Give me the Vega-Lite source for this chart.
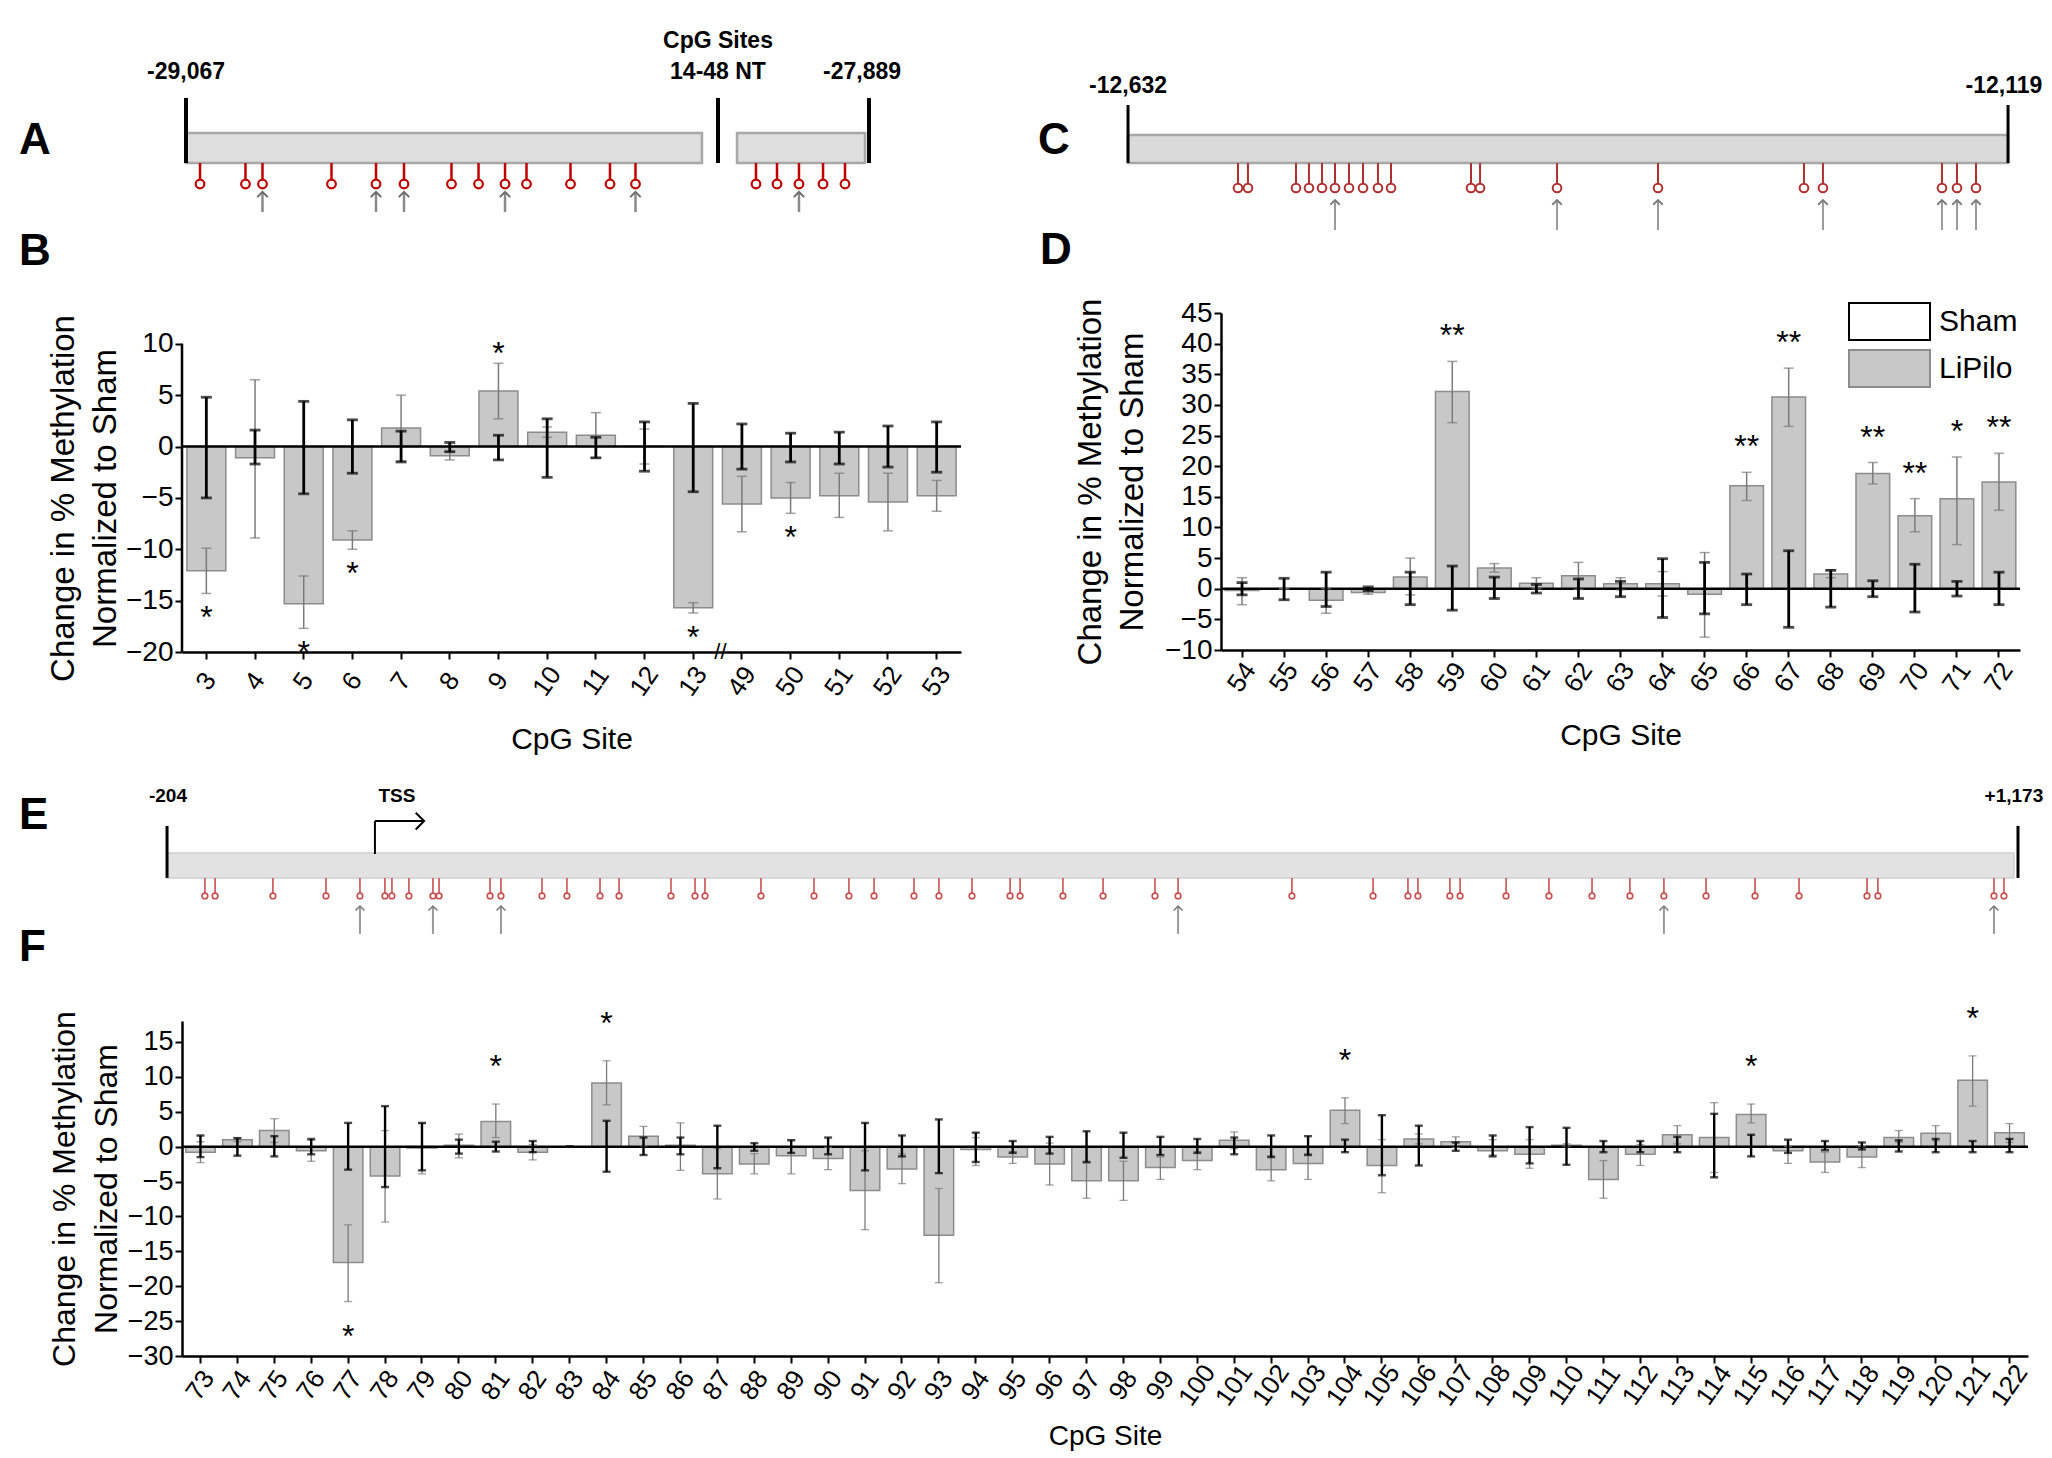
{
  "$schema": "https://vega.github.io/schema/vega-lite/v6.json",
  "background": "white",
  "padding": {"left": 19, "top": 20, "right": 5, "bottom": 0},
  "bounds": "full",
  "spacing": -10,
  "datasets": {
    "A": [
      {"site": 1, "pos": 2.51, "arrow": 0}, {"site": 2, "pos": 8.84, "arrow": 0}, {"site": 3, "pos": 11.21, "arrow": 1},
      {"site": 4, "pos": 20.82, "arrow": 0}, {"site": 5, "pos": 27.02, "arrow": 1}, {"site": 6, "pos": 30.92, "arrow": 1},
      {"site": 7, "pos": 37.53, "arrow": 0}, {"site": 8, "pos": 41.30, "arrow": 0}, {"site": 9, "pos": 44.99, "arrow": 1},
      {"site": 10, "pos": 47.98, "arrow": 0}, {"site": 11, "pos": 54.11, "arrow": 0}, {"site": 12, "pos": 59.61, "arrow": 0},
      {"site": 13, "pos": 63.16, "arrow": 1}, {"site": 49, "pos": 79.94, "arrow": 0}, {"site": 50, "pos": 82.87, "arrow": 0},
      {"site": 51, "pos": 85.93, "arrow": 1}, {"site": 52, "pos": 89.28, "arrow": 0}, {"site": 53, "pos": 92.34, "arrow": 0}
    ],
    "C": [
      {"site": 54, "pos": 14.68, "arrow": 0}, {"site": 55, "pos": 15.74, "arrow": 0}, {"site": 56, "pos": 20.85, "arrow": 0},
      {"site": 57, "pos": 22.23, "arrow": 0}, {"site": 58, "pos": 23.62, "arrow": 0}, {"site": 59, "pos": 25.00, "arrow": 1},
      {"site": 60, "pos": 26.49, "arrow": 0}, {"site": 61, "pos": 27.98, "arrow": 0}, {"site": 62, "pos": 29.57, "arrow": 0},
      {"site": 63, "pos": 30.96, "arrow": 0}, {"site": 64, "pos": 39.47, "arrow": 0}, {"site": 65, "pos": 40.43, "arrow": 0},
      {"site": 66, "pos": 48.62, "arrow": 1}, {"site": 67, "pos": 59.36, "arrow": 1}, {"site": 68, "pos": 74.89, "arrow": 0},
      {"site": 69, "pos": 76.91, "arrow": 1}, {"site": 70, "pos": 89.57, "arrow": 1}, {"site": 71, "pos": 91.17, "arrow": 1},
      {"site": 72, "pos": 93.19, "arrow": 1}
    ],
    "E": [
      {"site": 73, "pos": 1.24, "arrow": 0}, {"site": 74, "pos": 1.79, "arrow": 0}, {"site": 75, "pos": 4.92, "arrow": 0},
      {"site": 76, "pos": 7.79, "arrow": 0}, {"site": 77, "pos": 9.63, "arrow": 1}, {"site": 78, "pos": 10.98, "arrow": 0},
      {"site": 79, "pos": 11.36, "arrow": 0}, {"site": 80, "pos": 12.28, "arrow": 0}, {"site": 81, "pos": 13.58, "arrow": 1},
      {"site": 82, "pos": 13.91, "arrow": 0}, {"site": 83, "pos": 16.67, "arrow": 0}, {"site": 84, "pos": 17.26, "arrow": 1},
      {"site": 85, "pos": 19.48, "arrow": 0}, {"site": 86, "pos": 20.83, "arrow": 0}, {"site": 87, "pos": 22.62, "arrow": 0},
      {"site": 88, "pos": 23.65, "arrow": 0}, {"site": 89, "pos": 26.46, "arrow": 0}, {"site": 90, "pos": 27.76, "arrow": 0},
      {"site": 91, "pos": 28.30, "arrow": 0}, {"site": 92, "pos": 31.33, "arrow": 0}, {"site": 93, "pos": 34.20, "arrow": 0},
      {"site": 94, "pos": 36.09, "arrow": 0}, {"site": 95, "pos": 37.45, "arrow": 0}, {"site": 96, "pos": 39.61, "arrow": 0},
      {"site": 97, "pos": 40.96, "arrow": 0}, {"site": 98, "pos": 42.75, "arrow": 0}, {"site": 99, "pos": 44.81, "arrow": 0},
      {"site": 100, "pos": 45.35, "arrow": 0}, {"site": 101, "pos": 47.67, "arrow": 0}, {"site": 102, "pos": 49.84, "arrow": 0},
      {"site": 103, "pos": 52.65, "arrow": 0}, {"site": 104, "pos": 53.90, "arrow": 1}, {"site": 105, "pos": 60.06, "arrow": 0},
      {"site": 106, "pos": 64.45, "arrow": 0}, {"site": 107, "pos": 66.34, "arrow": 0}, {"site": 108, "pos": 66.88, "arrow": 0},
      {"site": 109, "pos": 68.61, "arrow": 0}, {"site": 110, "pos": 69.16, "arrow": 0}, {"site": 111, "pos": 71.65, "arrow": 0},
      {"site": 112, "pos": 73.97, "arrow": 0}, {"site": 113, "pos": 76.30, "arrow": 0}, {"site": 114, "pos": 78.35, "arrow": 0},
      {"site": 115, "pos": 80.19, "arrow": 1}, {"site": 116, "pos": 82.47, "arrow": 0}, {"site": 117, "pos": 85.12, "arrow": 0},
      {"site": 118, "pos": 87.50, "arrow": 0}, {"site": 119, "pos": 91.18, "arrow": 0}, {"site": 120, "pos": 91.77, "arrow": 0},
      {"site": 121, "pos": 98.05, "arrow": 1}, {"site": 122, "pos": 98.59, "arrow": 0}
    ],
    "B": [
      {"site": 3, "m": -12.1, "lo": -14.3, "hi": -9.9, "slo": -5.0, "shi": 4.8, "star": "*"},
      {"site": 4, "m": -1.1, "lo": -8.9, "hi": 6.5, "slo": -1.7, "shi": 1.6, "star": ""},
      {"site": 5, "m": -15.3, "lo": -17.7, "hi": -12.6, "slo": -4.6, "shi": 4.4, "star": "*"},
      {"site": 6, "m": -9.1, "lo": -10.0, "hi": -8.2, "slo": -2.6, "shi": 2.6, "star": "*"},
      {"site": 7, "m": 1.8, "lo": -1.4, "hi": 5.0, "slo": -1.5, "shi": 1.5, "star": ""},
      {"site": 8, "m": -0.9, "lo": -1.3, "hi": -0.5, "slo": -0.5, "shi": 0.4, "star": ""},
      {"site": 9, "m": 5.4, "lo": 2.7, "hi": 8.1, "slo": -1.3, "shi": 1.1, "star": "*"},
      {"site": 10, "m": 1.4, "lo": 0.9, "hi": 1.9, "slo": -3.0, "shi": 2.7, "star": ""},
      {"site": 11, "m": 1.1, "lo": -1.1, "hi": 3.3, "slo": -1.1, "shi": 0.9, "star": ""},
      {"site": 12, "m": 0.0, "lo": -1.7, "hi": 1.7, "slo": -2.4, "shi": 2.4, "star": ""},
      {"site": 13, "m": -15.7, "lo": -16.2, "hi": -15.2, "slo": -4.4, "shi": 4.2, "star": "*"},
      {"site": 49, "m": -5.6, "lo": -8.3, "hi": -2.9, "slo": -2.2, "shi": 2.2, "star": ""},
      {"site": 50, "m": -5.0, "lo": -6.5, "hi": -3.5, "slo": -1.5, "shi": 1.3, "star": "*"},
      {"site": 51, "m": -4.8, "lo": -6.9, "hi": -2.6, "slo": -1.7, "shi": 1.4, "star": ""},
      {"site": 52, "m": -5.4, "lo": -8.2, "hi": -2.6, "slo": -2.0, "shi": 2.0, "star": ""},
      {"site": 53, "m": -4.8, "lo": -6.3, "hi": -3.3, "slo": -2.5, "shi": 2.4, "star": ""}
    ],
    "D": [
      {"site": 54, "m": -0.3, "lo": -2.6, "hi": 1.8, "slo": -1.0, "shi": 1.0, "star": "", "grp": "LiPilo"},
      {"site": 55, "m": 0.0, "lo": 0.0, "hi": 0.0, "slo": -1.8, "shi": 1.7, "star": "", "grp": "LiPilo"},
      {"site": 56, "m": -1.9, "lo": -4.0, "hi": 0.0, "slo": -2.9, "shi": 2.7, "star": "", "grp": "LiPilo"},
      {"site": 57, "m": -0.6, "lo": -0.9, "hi": -0.3, "slo": -0.3, "shi": 0.3, "star": "", "grp": "LiPilo"},
      {"site": 58, "m": 1.9, "lo": -1.0, "hi": 5.0, "slo": -2.6, "shi": 2.7, "star": "", "grp": "LiPilo"},
      {"site": 59, "m": 32.2, "lo": 27.1, "hi": 37.1, "slo": -3.5, "shi": 3.7, "star": "**", "grp": "LiPilo"},
      {"site": 60, "m": 3.4, "lo": 2.7, "hi": 4.1, "slo": -1.6, "shi": 1.9, "star": "", "grp": "LiPilo"},
      {"site": 61, "m": 0.9, "lo": 0.0, "hi": 1.8, "slo": -0.7, "shi": 0.7, "star": "", "grp": "LiPilo"},
      {"site": 62, "m": 2.1, "lo": -0.1, "hi": 4.3, "slo": -1.6, "shi": 1.6, "star": "", "grp": "LiPilo"},
      {"site": 63, "m": 0.8, "lo": -0.2, "hi": 1.8, "slo": -1.3, "shi": 1.2, "star": "", "grp": "LiPilo"},
      {"site": 64, "m": 0.8, "lo": -1.2, "hi": 2.8, "slo": -4.7, "shi": 4.9, "star": "", "grp": "LiPilo"},
      {"site": 65, "m": -0.9, "lo": -7.9, "hi": 5.9, "slo": -4.1, "shi": 4.3, "star": "", "grp": "LiPilo"},
      {"site": 66, "m": 16.8, "lo": 14.4, "hi": 19.0, "slo": -2.6, "shi": 2.4, "star": "**", "grp": "LiPilo"},
      {"site": 67, "m": 31.3, "lo": 26.5, "hi": 36.0, "slo": -6.3, "shi": 6.2, "star": "**", "grp": "LiPilo"},
      {"site": 68, "m": 2.4, "lo": 1.8, "hi": 3.1, "slo": -3.0, "shi": 3.0, "star": "", "grp": "LiPilo"},
      {"site": 69, "m": 18.8, "lo": 17.1, "hi": 20.6, "slo": -1.3, "shi": 1.3, "star": "**", "grp": "LiPilo"},
      {"site": 70, "m": 11.9, "lo": 9.3, "hi": 14.7, "slo": -3.8, "shi": 4.0, "star": "**", "grp": "LiPilo"},
      {"site": 71, "m": 14.7, "lo": 7.2, "hi": 21.5, "slo": -1.2, "shi": 1.2, "star": "*", "grp": "LiPilo"},
      {"site": 72, "m": 17.4, "lo": 12.8, "hi": 22.1, "slo": -2.6, "shi": 2.7, "star": "**", "grp": "LiPilo"}
    ],
    "F": [
      {"site": 73, "m": -0.8, "lo": -2.3, "hi": 0.7, "slo": -1.5, "shi": 1.6, "star": ""},
      {"site": 74, "m": 1.0, "lo": 0.7, "hi": 1.3, "slo": -1.3, "shi": 1.2, "star": ""},
      {"site": 75, "m": 2.3, "lo": 0.6, "hi": 4.0, "slo": -1.4, "shi": 1.5, "star": ""},
      {"site": 76, "m": -0.6, "lo": -2.1, "hi": 0.9, "slo": -1.1, "shi": 1.1, "star": ""},
      {"site": 77, "m": -16.6, "lo": -22.2, "hi": -11.2, "slo": -3.3, "shi": 3.4, "star": "*"},
      {"site": 78, "m": -4.2, "lo": -10.8, "hi": 2.3, "slo": -5.8, "shi": 5.8, "star": ""},
      {"site": 79, "m": -0.2, "lo": -3.9, "hi": 3.3, "slo": -3.4, "shi": 3.4, "star": ""},
      {"site": 80, "m": 0.2, "lo": -1.6, "hi": 1.8, "slo": -1.0, "shi": 1.0, "star": ""},
      {"site": 81, "m": 3.6, "lo": 1.3, "hi": 6.1, "slo": -0.7, "shi": 0.7, "star": "*"},
      {"site": 82, "m": -0.8, "lo": -1.9, "hi": 0.3, "slo": -0.8, "shi": 0.8, "star": ""},
      {"site": 83, "m": 0.0, "lo": 0.0, "hi": 0.0, "slo": 0.0, "shi": 0.0, "star": ""},
      {"site": 84, "m": 9.1, "lo": 6.0, "hi": 12.3, "slo": -3.6, "shi": 3.7, "star": "*"},
      {"site": 85, "m": 1.5, "lo": 0.1, "hi": 2.9, "slo": -1.2, "shi": 1.3, "star": ""},
      {"site": 86, "m": 0.2, "lo": -3.4, "hi": 3.4, "slo": -1.1, "shi": 1.3, "star": ""},
      {"site": 87, "m": -3.9, "lo": -7.5, "hi": -0.3, "slo": -3.1, "shi": 3.0, "star": ""},
      {"site": 88, "m": -2.5, "lo": -3.9, "hi": -1.0, "slo": -0.6, "shi": 0.5, "star": ""},
      {"site": 89, "m": -1.3, "lo": -3.9, "hi": 1.0, "slo": -0.9, "shi": 0.9, "star": ""},
      {"site": 90, "m": -1.7, "lo": -3.3, "hi": -0.1, "slo": -1.1, "shi": 1.3, "star": ""},
      {"site": 91, "m": -6.3, "lo": -11.9, "hi": -0.6, "slo": -3.4, "shi": 3.4, "star": ""},
      {"site": 92, "m": -3.2, "lo": -5.3, "hi": -1.0, "slo": -1.4, "shi": 1.6, "star": ""},
      {"site": 93, "m": -12.7, "lo": -19.5, "hi": -6.0, "slo": -3.8, "shi": 3.9, "star": ""},
      {"site": 94, "m": -0.4, "lo": -2.7, "hi": 1.3, "slo": -2.2, "shi": 2.0, "star": ""},
      {"site": 95, "m": -1.5, "lo": -2.4, "hi": -0.7, "slo": -0.9, "shi": 0.8, "star": ""},
      {"site": 96, "m": -2.5, "lo": -5.5, "hi": 0.5, "slo": -1.0, "shi": 1.4, "star": ""},
      {"site": 97, "m": -4.9, "lo": -7.4, "hi": -2.4, "slo": -2.2, "shi": 2.2, "star": ""},
      {"site": 98, "m": -4.9, "lo": -7.7, "hi": -2.1, "slo": -1.6, "shi": 2.0, "star": ""},
      {"site": 99, "m": -3.0, "lo": -4.7, "hi": -1.5, "slo": -1.2, "shi": 1.4, "star": ""},
      {"site": 100, "m": -2.0, "lo": -3.3, "hi": -0.7, "slo": -0.9, "shi": 1.1, "star": ""},
      {"site": 101, "m": 0.9, "lo": -0.3, "hi": 2.1, "slo": -1.1, "shi": 1.3, "star": ""},
      {"site": 102, "m": -3.3, "lo": -4.9, "hi": -1.3, "slo": -1.5, "shi": 1.6, "star": ""},
      {"site": 103, "m": -2.4, "lo": -4.7, "hi": -1.0, "slo": -1.2, "shi": 1.5, "star": ""},
      {"site": 104, "m": 5.2, "lo": 3.3, "hi": 7.0, "slo": -0.8, "shi": 1.0, "star": "*"},
      {"site": 105, "m": -2.7, "lo": -6.6, "hi": 1.0, "slo": -4.1, "shi": 4.5, "star": ""},
      {"site": 106, "m": 1.1, "lo": 0.4, "hi": 1.8, "slo": -2.7, "shi": 3.0, "star": ""},
      {"site": 107, "m": 0.7, "lo": -0.1, "hi": 1.4, "slo": -0.6, "shi": 0.6, "star": ""},
      {"site": 108, "m": -0.6, "lo": -1.2, "hi": 1.0, "slo": -1.4, "shi": 1.6, "star": ""},
      {"site": 109, "m": -1.1, "lo": -3.1, "hi": 1.0, "slo": -2.4, "shi": 2.8, "star": ""},
      {"site": 110, "m": 0.2, "lo": 0.0, "hi": 0.4, "slo": -2.6, "shi": 2.7, "star": ""},
      {"site": 111, "m": -4.7, "lo": -7.4, "hi": -2.0, "slo": -0.8, "shi": 0.8, "star": ""},
      {"site": 112, "m": -1.1, "lo": -2.7, "hi": 0.3, "slo": -0.8, "shi": 0.8, "star": ""},
      {"site": 113, "m": 1.7, "lo": 0.4, "hi": 3.0, "slo": -0.8, "shi": 1.4, "star": ""},
      {"site": 114, "m": 1.3, "lo": -3.7, "hi": 6.3, "slo": -4.4, "shi": 4.7, "star": ""},
      {"site": 115, "m": 4.6, "lo": 3.4, "hi": 6.1, "slo": -1.4, "shi": 1.7, "star": "*"},
      {"site": 116, "m": -0.6, "lo": -2.4, "hi": 0.0, "slo": -0.9, "shi": 1.0, "star": ""},
      {"site": 117, "m": -2.2, "lo": -3.7, "hi": -0.8, "slo": -0.5, "shi": 0.8, "star": ""},
      {"site": 118, "m": -1.5, "lo": -3.0, "hi": 0.0, "slo": -0.4, "shi": 0.6, "star": ""},
      {"site": 119, "m": 1.3, "lo": 0.6, "hi": 2.3, "slo": -0.7, "shi": 0.9, "star": ""},
      {"site": 120, "m": 1.9, "lo": 0.8, "hi": 3.0, "slo": -0.8, "shi": 1.1, "star": ""},
      {"site": 121, "m": 9.5, "lo": 5.8, "hi": 13.0, "slo": -0.8, "shi": 0.8, "star": "*"},
      {"site": 122, "m": 2.0, "lo": 0.6, "hi": 3.3, "slo": -0.8, "shi": 1.1, "star": ""}
    ]
  },
  "vconcat": [
    {
      "hconcat": [
        {
          "width": 718, "height": 219,
          "layer": [
            {"data": {"values": [{"start": 0.56, "end": 72.42}, {"start": 77.30, "end": 95.13}]},
             "mark": {"type": "rect", "fill": "#dedede", "stroke": "#a8a8a8", "strokeWidth": 2.5},
             "encoding": {
               "x": {"field": "start", "type": "quantitative", "scale": {"domain": [0, 100], "nice": false, "zero": false}, "axis": null},
               "x2": {"field": "end"},
               "y": {"datum": 34.7, "type": "quantitative", "scale": {"domain": [0, 100], "nice": false, "zero": false}, "axis": null},
               "y2": {"datum": 48.4}}},
            {"data": {"values": [{"p": 0.56}, {"p": 74.65}, {"p": 95.68}]},
             "mark": {"type": "rule", "color": "#000000", "strokeWidth": 4},
             "encoding": {"x": {"field": "p", "type": "quantitative"}, "y": {"datum": 34.7}, "y2": {"datum": 64.4}}},
            {"data": {"name": "A"},
             "mark": {"type": "rule", "color": "#c00000", "strokeWidth": 2.5},
             "encoding": {"x": {"field": "pos", "type": "quantitative"}, "y": {"datum": 34.7}, "y2": {"datum": 26.6}}},
            {"data": {"name": "A"},
             "mark": {"type": "point", "shape": "circle", "size": 75, "fill": "#ffffff", "stroke": "#c00000", "strokeWidth": 2.2, "opacity": 1, "filled": true},
             "encoding": {"x": {"field": "pos", "type": "quantitative"}, "y": {"datum": 25.1}}},
            {"data": {"name": "A"}, "transform": [{"filter": "datum.arrow == 1"}],
             "mark": {"type": "rule", "color": "#8a8a8a", "strokeWidth": 2.5},
             "encoding": {"x": {"field": "pos", "type": "quantitative"}, "y": {"datum": 12.3}, "y2": {"datum": 21.2}}},
            {"data": {"name": "A"}, "transform": [{"filter": "datum.arrow == 1"}],
             "mark": {"type": "point", "shape": "M-1,1L0,0L1,1", "size": 110, "filled": false, "stroke": "#6a6a6a", "strokeWidth": 2, "opacity": 1},
             "encoding": {"x": {"field": "pos", "type": "quantitative"}, "y": {"datum": 21.5}}},
            {"data": {"values": [{"p": 0.56, "t": "-29,067"}, {"p": 74.65, "t": "14-48 NT"}, {"p": 94.71, "t": "-27,889"}]},
             "mark": {"type": "text", "fontSize": 23, "fontWeight": "bold", "align": "center", "baseline": "middle", "color": "#000000"},
             "encoding": {"x": {"field": "p", "type": "quantitative"}, "y": {"datum": 76.3}, "text": {"field": "t"}}},
            {"data": {"values": [{"p": 74.65, "t": "CpG Sites"}]},
             "mark": {"type": "text", "fontSize": 23, "fontWeight": "bold", "align": "center", "baseline": "middle", "color": "#000000"},
             "encoding": {"x": {"field": "p", "type": "quantitative"}, "y": {"datum": 90.4}, "text": {"field": "t"}}},
            {"data": {"values": [{"t": "A"}]},
             "mark": {"type": "text", "fontSize": 44, "fontWeight": "bold", "align": "left", "baseline": "middle", "color": "#000000"},
             "encoding": {"x": {"datum": -22.7}, "y": {"datum": 44.7}, "text": {"field": "t"}}}
          ]
        },
        {
          "width": 940, "height": 219,
          "layer": [
            {"data": {"values": [{"start": 2.98, "end": 96.6}]},
             "mark": {"type": "rect", "fill": "#dadada", "stroke": "#a8a8a8", "strokeWidth": 2.5},
             "encoding": {
               "x": {"field": "start", "type": "quantitative", "scale": {"domain": [0, 100], "nice": false, "zero": false}, "axis": null},
               "x2": {"field": "end"},
               "y": {"datum": 34.7, "type": "quantitative", "scale": {"domain": [0, 100], "nice": false, "zero": false}, "axis": null},
               "y2": {"datum": 47.5}}},
            {"data": {"values": [{"p": 2.98}, {"p": 96.6}]},
             "mark": {"type": "rule", "color": "#000000", "strokeWidth": 3},
             "encoding": {"x": {"field": "p", "type": "quantitative"}, "y": {"datum": 34.7}, "y2": {"datum": 61.2}}},
            {"data": {"name": "C"},
             "mark": {"type": "rule", "color": "#b03030", "strokeWidth": 2},
             "encoding": {"x": {"field": "pos", "type": "quantitative"}, "y": {"datum": 34.7}, "y2": {"datum": 24.9}}},
            {"data": {"name": "C"},
             "mark": {"type": "point", "shape": "circle", "size": 75, "fill": "#ffffff", "stroke": "#b03030", "strokeWidth": 2, "opacity": 1, "filled": true},
             "encoding": {"x": {"field": "pos", "type": "quantitative"}, "y": {"datum": 23.3}}},
            {"data": {"name": "C"}, "transform": [{"filter": "datum.arrow == 1"}],
             "mark": {"type": "rule", "color": "#9a9a9a", "strokeWidth": 2},
             "encoding": {"x": {"field": "pos", "type": "quantitative"}, "y": {"datum": 4.1}, "y2": {"datum": 17.5}}},
            {"data": {"name": "C"}, "transform": [{"filter": "datum.arrow == 1"}],
             "mark": {"type": "point", "shape": "M-1,1L0,0L1,1", "size": 90, "filled": false, "stroke": "#7a7a7a", "strokeWidth": 1.8, "opacity": 1},
             "encoding": {"x": {"field": "pos", "type": "quantitative"}, "y": {"datum": 17.8}}},
            {"data": {"values": [{"p": 2.98, "t": "-12,632"}, {"p": 96.17, "t": "-12,119"}]},
             "mark": {"type": "text", "fontSize": 23, "fontWeight": "bold", "align": "center", "baseline": "middle", "color": "#000000"},
             "encoding": {"x": {"field": "p", "type": "quantitative"}, "y": {"datum": 69.9}, "text": {"field": "t"}}},
            {"data": {"values": [{"t": "C"}]},
             "mark": {"type": "text", "fontSize": 44, "fontWeight": "bold", "align": "left", "baseline": "middle", "color": "#000000"},
             "encoding": {"x": {"datum": -6.6}, "y": {"datum": 44.7}, "text": {"field": "t"}}}
          ]
        }
      ],
      "spacing": 200,
      "bounds": "flush"
    },
    {
      "hconcat": [
        {
          "width": 779, "height": 339,
          "title": {"text": "B", "anchor": "start", "frame": "group", "align": "left", "dx": -163, "offset": 39, "fontSize": 44, "fontWeight": "bold", "font": "Liberation Sans", "color": "#000000"},
          "data": {"name": "B"},
          "resolve": {"axis": {"x": "independent", "y": "independent"}},
          "layer": [
            {"mark": {"type": "bar", "fill": "#c8c8c8", "stroke": "#8c8c8c", "strokeWidth": 1.5},
             "encoding": {
               "x": {"field": "site", "type": "ordinal", "scale": {"paddingInner": 0.2, "paddingOuter": 0.1},
                     "axis": {"title": "CpG Site", "labelAngle": -55, "labelAlign": "center", "labelBaseline": "middle", "labelPadding": 22, "labelFontSize": 26, "labelOverlap": false, "titleFontSize": 30, "titlePadding": 24}},
               "y": {"field": "m", "type": "quantitative", "scale": {"domain": [-20, 13], "nice": false, "zero": false},
                     "axis": {"title": ["Change in % Methylation", "Normalized to Sham"], "domain": false, "values": [-20, -15, -10, -5, 0, 5, 10], "labelOverlap": false, "labelFontSize": 28, "titleFontSize": 33, "titleLineHeight": 42, "titlePadding": 3, "titleY": 185}},
               "y2": {"datum": 0}}},
            {"data": {"values": [{}]}, "mark": {"type": "rule", "color": "#000000", "strokeWidth": 2.5}, "encoding": {"y": {"datum": 0, "axis": null}}},
            {"data": {"values": [{}]}, "mark": {"type": "rule", "color": "#000000", "strokeWidth": 2.5},
             "encoding": {"x": {"datum": 3, "type": "ordinal", "bandPosition": -0.125, "axis": null}, "y": {"datum": -20, "type": "quantitative", "axis": null}, "y2": {"datum": 10}}},
            {"mark": {"type": "errorbar", "ticks": true, "size": 10, "thickness": 1.5, "color": "#7a7a7a"},
             "encoding": {"x": {"field": "site", "type": "ordinal", "axis": null}, "y": {"field": "lo", "type": "quantitative", "axis": null}, "y2": {"field": "hi"}}},
            {"mark": {"type": "errorbar", "ticks": true, "size": 11, "thickness": 2.8, "color": "#000000"},
             "encoding": {"x": {"field": "site", "type": "ordinal", "axis": null}, "y": {"field": "slo", "type": "quantitative", "axis": null}, "y2": {"field": "shi"}}},
            {"transform": [{"filter": "datum.star != '' && datum.m < 0"}],
             "mark": {"type": "text", "fontSize": 32, "dy": 25, "align": "center", "baseline": "middle", "color": "#000000"},
             "encoding": {"x": {"field": "site", "type": "ordinal", "axis": null}, "y": {"field": "lo", "type": "quantitative", "axis": null}, "text": {"field": "star"}}},
            {"transform": [{"filter": "datum.star != '' && datum.m > 0"}],
             "mark": {"type": "text", "fontSize": 32, "dy": -9, "align": "center", "baseline": "middle", "color": "#000000"},
             "encoding": {"x": {"field": "site", "type": "ordinal", "axis": null}, "y": {"field": "hi", "type": "quantitative", "axis": null}, "text": {"field": "star"}}},
            {"data": {"values": [{"t": "//"}]},
             "mark": {"type": "text", "fontSize": 22, "align": "center", "baseline": "middle", "color": "#000000"},
             "encoding": {"x": {"datum": 13, "type": "ordinal", "bandPosition": 1.2, "axis": null}, "y": {"datum": -20, "type": "quantitative", "axis": null}, "text": {"field": "t"}}}
          ]
        },
        {
          "width": 799, "height": 337,
          "title": {"text": "D", "anchor": "start", "frame": "group", "align": "left", "dx": -181, "offset": 25, "fontSize": 44, "fontWeight": "bold", "font": "Liberation Sans", "color": "#000000"},
          "data": {"name": "D"},
          "resolve": {"axis": {"x": "independent", "y": "independent"}},
          "layer": [
            {"mark": {"type": "bar", "strokeWidth": 1.5},
             "encoding": {
               "x": {"field": "site", "type": "ordinal", "scale": {"paddingInner": 0.2, "paddingOuter": 0.1},
                     "axis": {"title": "CpG Site", "labelAngle": -55, "labelAlign": "center", "labelBaseline": "middle", "labelPadding": 20, "labelFontSize": 26, "labelOverlap": false, "titleFontSize": 30, "titlePadding": 24}},
               "y": {"field": "m", "type": "quantitative", "scale": {"domain": [-10, 45], "nice": false, "zero": false},
                     "axis": {"title": ["Change in % Methylation", "Normalized to Sham"], "values": [-10, -5, 0, 5, 10, 15, 20, 25, 30, 35, 40, 45], "labelOverlap": false, "labelFontSize": 28, "titleFontSize": 33, "titleLineHeight": 42, "titlePadding": 15}},
               "y2": {"datum": 0},
               "fill": {"field": "grp", "type": "nominal", "scale": {"domain": ["Sham", "LiPilo"], "range": ["#ffffff", "#c8c8c8"]},
                        "legend": {"title": null, "orient": "none", "legendX": 1686, "legendY": 280, "symbolType": "M-2,-0.914H2V0.914H-2Z", "symbolSize": 1640, "symbolStrokeWidth": 2, "labelFontSize": 30, "labelOffset": 28, "rowPadding": 0, "padding": 0, "labelColor": "#000000"}},
               "stroke": {"field": "grp", "type": "nominal", "scale": {"domain": ["Sham", "LiPilo"], "range": ["#000000", "#8c8c8c"]},
                        "legend": {"title": null, "orient": "none", "legendX": 1686, "legendY": 280, "symbolType": "M-2,-0.914H2V0.914H-2Z", "symbolSize": 1640, "symbolStrokeWidth": 2, "labelFontSize": 30, "labelOffset": 28, "rowPadding": 0, "padding": 0, "labelColor": "#000000"}}}},
            {"data": {"values": [{}]}, "mark": {"type": "rule", "color": "#000000", "strokeWidth": 2.5}, "encoding": {"y": {"datum": 0, "axis": null}}},
            {"mark": {"type": "errorbar", "ticks": true, "size": 10, "thickness": 1.5, "color": "#7a7a7a"},
             "encoding": {"x": {"field": "site", "type": "ordinal", "axis": null}, "y": {"field": "lo", "type": "quantitative", "axis": null}, "y2": {"field": "hi"}}},
            {"mark": {"type": "errorbar", "ticks": true, "size": 11, "thickness": 2.8, "color": "#000000"},
             "encoding": {"x": {"field": "site", "type": "ordinal", "axis": null}, "y": {"field": "slo", "type": "quantitative", "axis": null}, "y2": {"field": "shi"}}},
            {"transform": [{"filter": "datum.star != ''"}],
             "mark": {"type": "text", "fontSize": 32, "dy": -25, "align": "center", "baseline": "middle", "color": "#000000"},
             "encoding": {"x": {"field": "site", "type": "ordinal", "axis": null}, "y": {"field": "hi", "type": "quantitative", "axis": null}, "text": {"field": "star"}}}
          ]
        }
      ],
      "spacing": 77,
      "bounds": "full"
    },
    {
      "width": 1848, "height": 180,
      "layer": [
        {"data": {"values": [{"start": -0.81, "end": 99.13}]},
         "mark": {"type": "rect", "fill": "#e2e2e2", "stroke": "#d0d0d0", "strokeWidth": 1.5},
         "encoding": {
           "x": {"field": "start", "type": "quantitative", "scale": {"domain": [0, 100], "nice": false, "zero": false}, "axis": null},
           "x2": {"field": "end"},
           "y": {"datum": 31.7, "type": "quantitative", "scale": {"domain": [0, 100], "nice": false, "zero": false}, "axis": null},
           "y2": {"datum": 45.6}}},
        {"data": {"values": [{"p": -0.81}, {"p": 99.35}]},
         "mark": {"type": "rule", "color": "#000000", "strokeWidth": 3},
         "encoding": {"x": {"field": "p", "type": "quantitative"}, "y": {"datum": 31.7}, "y2": {"datum": 60.6}}},
        {"data": {"values": [{"p": 10.44}]},
         "mark": {"type": "rule", "color": "#000000", "strokeWidth": 2},
         "encoding": {"x": {"field": "p", "type": "quantitative"}, "y": {"datum": 45.0}, "y2": {"datum": 63.3}}},
        {"data": {"values": [{"p": 10.44, "q": 13.1}]},
         "mark": {"type": "rule", "color": "#000000", "strokeWidth": 2},
         "encoding": {"x": {"field": "p", "type": "quantitative"}, "x2": {"field": "q"}, "y": {"datum": 63.3}}},
        {"data": {"values": [{"p": 13.1}]},
         "mark": {"type": "point", "shape": "M-1,-1L0,0L-1,1", "size": 280, "filled": false, "stroke": "#000000", "strokeWidth": 2, "opacity": 1},
         "encoding": {"x": {"field": "p", "type": "quantitative"}, "y": {"datum": 63.3}}},
        {"data": {"name": "E"},
         "mark": {"type": "rule", "color": "#c85050", "strokeWidth": 1.6},
         "encoding": {"x": {"field": "pos", "type": "quantitative"}, "y": {"datum": 31.7}, "y2": {"datum": 23.2}}},
        {"data": {"name": "E"},
         "mark": {"type": "point", "shape": "circle", "size": 32, "fill": "#ffffff", "stroke": "#c85050", "strokeWidth": 1.6, "opacity": 1, "filled": true},
         "encoding": {"x": {"field": "pos", "type": "quantitative"}, "y": {"datum": 21.7}}},
        {"data": {"name": "E"}, "transform": [{"filter": "datum.arrow == 1"}],
         "mark": {"type": "rule", "color": "#9a9a9a", "strokeWidth": 2},
         "encoding": {"x": {"field": "pos", "type": "quantitative"}, "y": {"datum": 0.6}, "y2": {"datum": 15.8}}},
        {"data": {"name": "E"}, "transform": [{"filter": "datum.arrow == 1"}],
         "mark": {"type": "point", "shape": "M-1,1L0,0L1,1", "size": 80, "filled": false, "stroke": "#7a7a7a", "strokeWidth": 1.6, "opacity": 1},
         "encoding": {"x": {"field": "pos", "type": "quantitative"}, "y": {"datum": 16.1}}},
        {"data": {"values": [{"p": -0.76, "t": "-204"}, {"p": 11.63, "t": "TSS"}, {"p": 99.13, "t": "+1,173"}]},
         "mark": {"type": "text", "fontSize": 19, "fontWeight": "bold", "align": "center", "baseline": "middle", "color": "#000000"},
         "encoding": {"x": {"field": "p", "type": "quantitative"}, "y": {"datum": 77.2}, "text": {"field": "t"}}},
        {"data": {"values": [{"t": "E"}]},
         "mark": {"type": "text", "fontSize": 44, "fontWeight": "bold", "align": "left", "baseline": "middle", "color": "#000000"},
         "encoding": {"x": {"datum": -8.82}, "y": {"datum": 66.1}, "text": {"field": "t"}}}
      ]
    },
    {
      "width": 1846, "height": 335,
      "title": {"text": "F", "anchor": "start", "frame": "group", "align": "left", "dx": -163, "offset": 33, "fontSize": 44, "fontWeight": "bold", "font": "Liberation Sans", "color": "#000000"},
      "data": {"name": "F"},
      "resolve": {"axis": {"x": "independent", "y": "independent"}},
      "layer": [
        {"mark": {"type": "bar", "fill": "#c8c8c8", "stroke": "#8c8c8c", "strokeWidth": 1.5},
         "encoding": {
           "x": {"field": "site", "type": "ordinal", "scale": {"paddingInner": 0.2, "paddingOuter": 0.1},
                 "axis": {"title": "CpG Site", "labelAngle": -55, "labelAlign": "center", "labelBaseline": "middle", "labelPadding": 22, "labelFontSize": 26, "labelOverlap": false, "titleFontSize": 28, "titlePadding": 12}},
           "y": {"field": "m", "type": "quantitative", "scale": {"domain": [-30, 18], "nice": false, "zero": false},
                 "axis": {"title": ["Change in % Methylation", "Normalized to Sham"], "values": [-30, -25, -20, -15, -10, -5, 0, 5, 10, 15], "labelOverlap": false, "labelFontSize": 27, "titleFontSize": 32, "titleLineHeight": 42, "titlePadding": 4}},
           "y2": {"datum": 0}}},
        {"data": {"values": [{}]}, "mark": {"type": "rule", "color": "#000000", "strokeWidth": 2.5}, "encoding": {"y": {"datum": 0, "axis": null}}},
        {"mark": {"type": "errorbar", "ticks": true, "size": 8, "thickness": 1.3, "color": "#7a7a7a"},
         "encoding": {"x": {"field": "site", "type": "ordinal", "axis": null}, "y": {"field": "lo", "type": "quantitative", "axis": null}, "y2": {"field": "hi"}}},
        {"mark": {"type": "errorbar", "ticks": true, "size": 8, "thickness": 2.4, "color": "#000000"},
         "encoding": {"x": {"field": "site", "type": "ordinal", "axis": null}, "y": {"field": "slo", "type": "quantitative", "axis": null}, "y2": {"field": "shi"}}},
        {"transform": [{"filter": "datum.star != '' && datum.m < 0"}],
         "mark": {"type": "text", "fontSize": 32, "dy": 35, "align": "center", "baseline": "middle", "color": "#000000"},
         "encoding": {"x": {"field": "site", "type": "ordinal", "axis": null}, "y": {"field": "lo", "type": "quantitative", "axis": null}, "text": {"field": "star"}}},
        {"transform": [{"filter": "datum.star != '' && datum.m > 0"}],
         "mark": {"type": "text", "fontSize": 32, "dy": -37, "align": "center", "baseline": "middle", "color": "#000000"},
         "encoding": {"x": {"field": "site", "type": "ordinal", "axis": null}, "y": {"field": "hi", "type": "quantitative", "axis": null}, "text": {"field": "star"}}}
      ]
    }
  ],
  "config": {
    "view": {"stroke": null},
    "font": "Liberation Sans",
    "axis": {"labelFont": "Liberation Sans", "titleFont": "Liberation Sans", "labelColor": "#000000", "titleColor": "#000000", "titleFontWeight": "normal", "domainColor": "#000000", "domainWidth": 2.5, "tickColor": "#000000", "tickWidth": 2, "tickSize": 7, "grid": false},
    "legend": {"labelFont": "Liberation Sans"},
    "text": {"font": "Liberation Sans"}
  }
}
